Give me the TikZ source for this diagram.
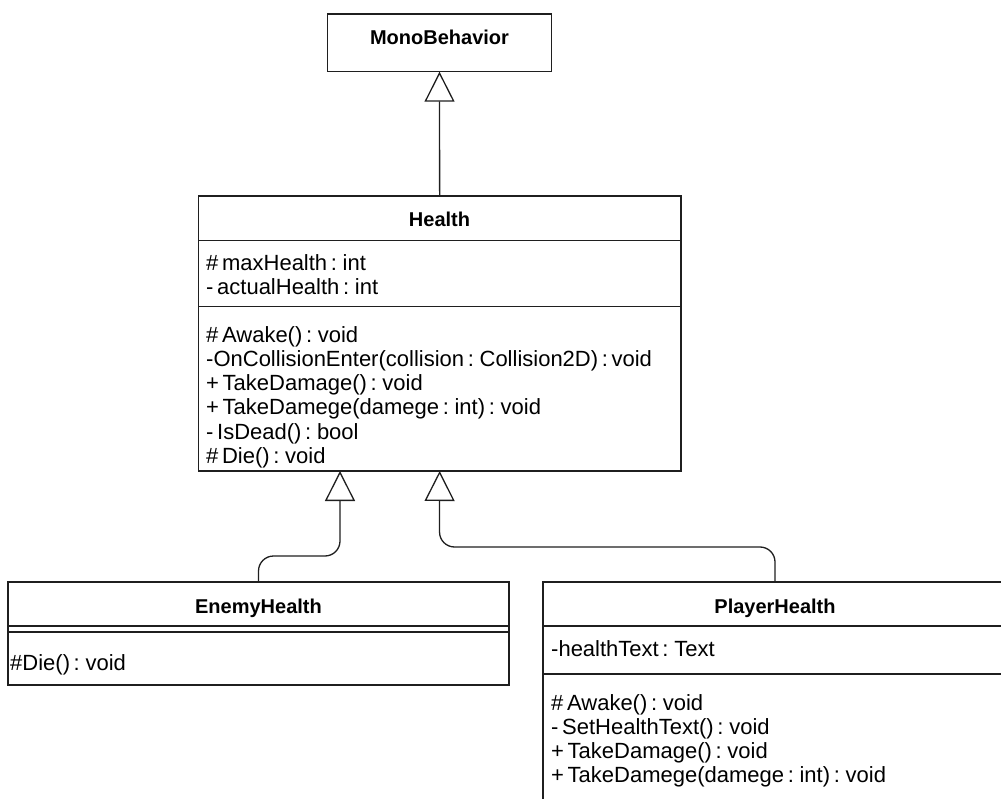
\documentclass[tikz,border=0pt]{standalone}
\usepackage{fontspec}
\setmainfont[WordSpace=0.6]{Liberation Sans}
\usetikzlibrary{arrows.meta}
\begin{document}
\begin{tikzpicture}[x=1pt,y=-1pt,
  classbox/.style={draw=black!88, line width=1.3pt, fill=white, outer sep=0pt, inner sep=0pt, anchor=north west},
  sepline/.style={draw=black!88, line width=1.3pt},
  title/.style={inner sep=0pt, anchor=base, font=\fontsize{20}{24}\selectfont\bfseries},
  member/.style={inner sep=0pt, anchor=base west, font=\fontsize{22}{24}\selectfont},
  gen/.style={draw=black!88, line width=1.3pt, rounded corners=15pt,
    -{Triangle[open, length=30pt, width=30pt, line width=1.3pt]}}
]
\useasboundingbox (0,0) rectangle (1001,799);
\clip (0,0) rectangle (1001,799);

% MonoBehavior
\node[classbox, minimum width=224.4pt, minimum height=57.7pt] (mono) at (327.3,14) {};
\node[title] (mononame) at (439.5,44.5) {MonoBehavior};

% Health
\node[classbox, minimum width=482.7pt, minimum height=275pt] (health) at (198.3,196) {};
\draw[sepline] ([yshift=-44.7pt]health.north west) -- ([yshift=-44.7pt]health.north east);
\draw[sepline] ([yshift=-110.3pt]health.north west) -- ([yshift=-110.3pt]health.north east);
\node[title] (healthname) at (439.5,227) {Health};
\node[member] (ha1) at (206,270.7) {\# maxHealth : int};
\node[member] (ha2) at (206,294.8) {- actualHealth : int};
\node[member] (hm1) at (206,342.6) {\# Awake() : void};
\node[member] (hm2) at (206,366.7) {-OnCollisionEnter(collision : Collision2D) : void};
\node[member] (hm3) at (206,390.8) {+ TakeDamage() : void};
\node[member] (hm4) at (206,414.9) {+ TakeDamege(damege : int) : void};
\node[member] (hm5) at (206,439.0) {- IsDead() : bool};
\node[member] (hm6) at (206,463.1) {\# Die() : void};

% EnemyHealth
\node[classbox, minimum width=501pt, minimum height=103pt] (enemy) at (8,582) {};
\draw[sepline] ([yshift=-44pt]enemy.north west) -- ([yshift=-44pt]enemy.north east);
\draw[sepline] ([yshift=-50pt]enemy.north west) -- ([yshift=-50pt]enemy.north east);
\node[title] (enemyname) at (258.5,613.5) {EnemyHealth};
\node[member] (em1) at (10,670) {\#Die() : void};

% PlayerHealth
\node[classbox, minimum width=464pt, minimum height=222pt] (player) at (543,582) {};
\draw[sepline] ([yshift=-44pt]player.north west) -- ([yshift=-44pt]player.north east);
\draw[sepline] ([yshift=-92pt]player.north west) -- ([yshift=-92pt]player.north east);
\node[title] (playername) at (775,613) {PlayerHealth};
\node[member] (pa1) at (551,656) {-healthText : Text};
\node[member] (pm1) at (551,710.7) {\# Awake() : void};
\node[member] (pm2) at (551,734.5) {- SetHealthText() : void};
\node[member] (pm3) at (551,758.4) {+ TakeDamage() : void};
\node[member] (pm4) at (551,782.3) {+ TakeDamege(damege : int) : void};

% Generalisation arrows
\coordinate (ejoint) at (340,556);
\coordinate (pjoint) at (439.5,547);
\draw[gen] (health.north) -- (mono.south);
\draw[gen] (enemy.north) |- (ejoint) -- (ejoint |- health.south);
\draw[gen] (player.north) |- (pjoint) -- (health.south);
\end{tikzpicture}
\end{document}
